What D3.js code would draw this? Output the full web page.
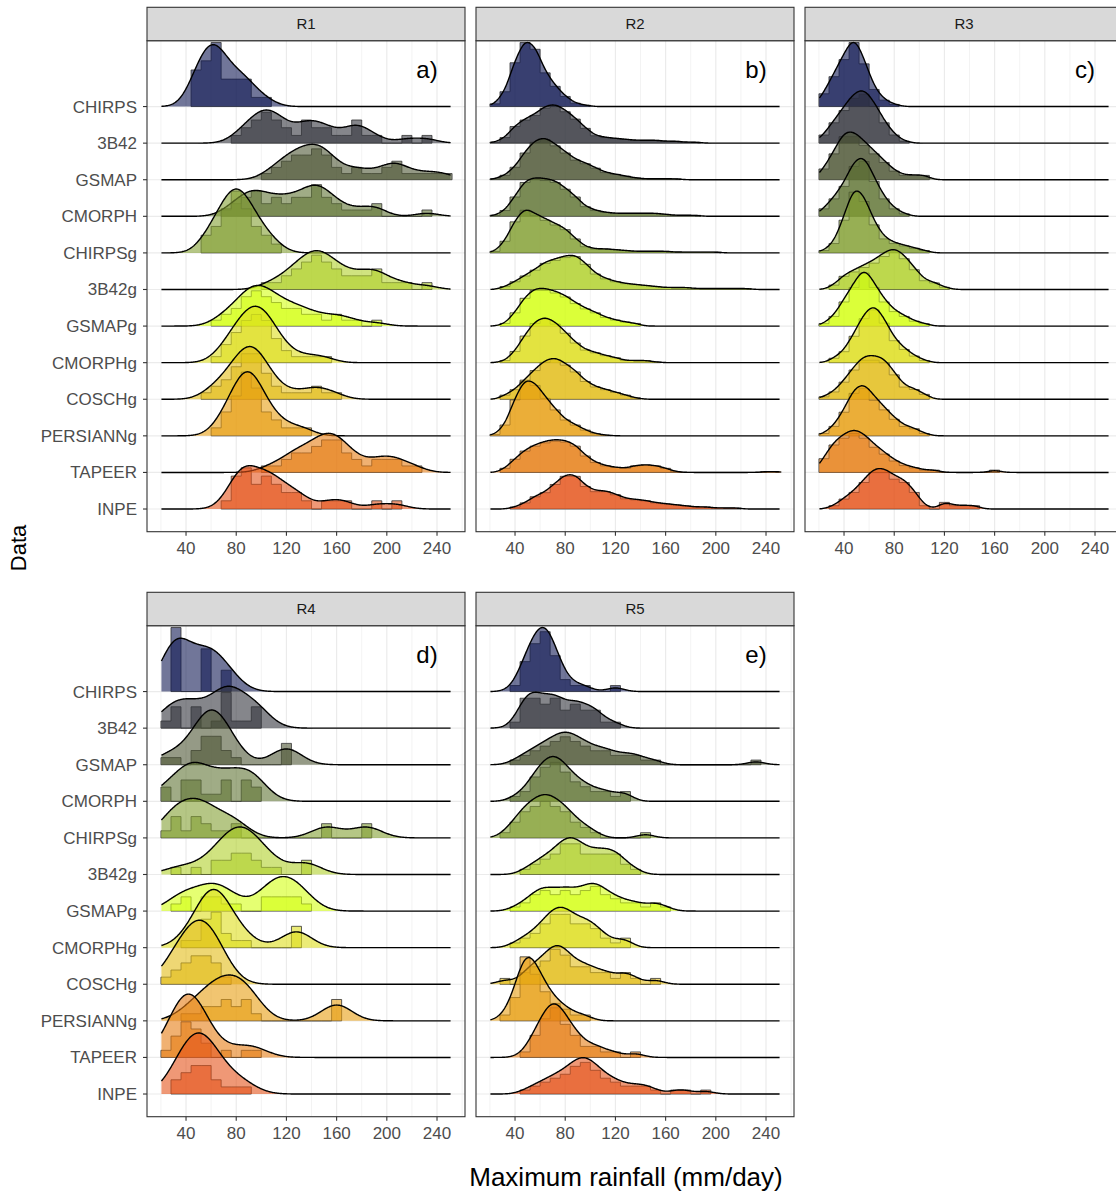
<!DOCTYPE html>
<html><head><meta charset="utf-8">
<script src="https://cdn.jsdelivr.net/npm/d3@7"></script>
<style>
body{margin:0;background:#fff}
svg{display:block}
text{font-family:"Liberation Sans",Arial,Helvetica,sans-serif}
</style></head>
<body><svg id="c" width="1116" height="1192"></svg>
<script>
// ---------- data ----------
const seriesNames = ["CHIRPS","3B42","GSMAP","CMORPH","CHIRPSg","3B42g","GSMAPg","CMORPHg","COSCHg","PERSIANNg","TAPEER","INPE"];
const seriesColors = ["#121a55","#33353d","#4f5636","#607535","#84a033","#b1d12b","#d4ff14","#dede1c","#e3bd17","#e89f12","#e67d14","#e4531a"];
const panelNames = ["R1","R2","R3","R4","R5"];
const panelTags = ["a)","b)","c)","d)","e)"];
const panelBandwidth = [9, 4, 4.5, 12, 6.5];
const xTickValues = [40,80,120,160,200,240];
const binStart = 20, binWidth = 8;
// counts of annual maxima per 8 mm/day bin: [first bin index, count, count, ...]
const r1Counts = [
  [3, 4,5,7,3,3,3,1,1],
  [7, 1,2,3,4,3,2,1,3,2,2,1,1,3,1,1,0,0,1,0,1],
  [10, 1,2,3,4,4,5,4,2,1,2,1,1,2,3,1,1,1,1,1],
  [6, 1,2,3,4,2,3,2,3,3,5,3,2,1,1,1,2,0,0,0,0,1],
  [4, 2,3,5,7,5,3,2,1],
  [10, 1,1,2,3,4,5,4,3,2,2,2,3,1,1,1,0,1],
  [5, 1,2,3,5,6,5,4,3,3,2,2,1,2,1,1,0,1],
  [5, 1,3,5,7,8,7,4,2,1,1,1,1],
  [4, 1,2,3,5,7,7,4,2,1,1,1,2,1,1],
  [5, 1,3,5,8,6,3,2,1,1,1],
  [10, 1,1,2,3,3,4,5,5,3,2,1,2,2,2,1,1],
  [6, 1,4,5,3,4,3,2,2,1,0,1,1,1,0,0,1,0,1]
];
const r2Counts = [
  [0, 4,22,65,95,85,50,30,15,5,2],
  [0, 1,6,18,25,30,38,40,34,26,16,8,6,5,4,3,3,3,2,2,1,1],
  [0, 1,5,14,30,42,45,38,30,22,18,13,8,6,4,2,1,1,1,1],
  [0, 1,6,20,35,38,37,35,28,20,10,6,4,3,3,3,3,3,2,1,1,1],
  [0, 2,15,40,55,48,42,36,30,18,8,5,5,4,3,2,2,2,2,1,1,1,1,1],
  [1, 3,8,14,20,27,30,33,34,26,16,11,8,6,5,4,3,2,2,2,1,1,1,1,1,1],
  [1, 4,20,42,54,54,50,44,34,26,20,13,9,6,4],
  [1, 3,16,38,56,62,55,42,28,18,14,10,7,3,3,3,1],
  [1, 6,14,28,42,54,58,50,40,26,18,14,10,6,2],
  [0, 2,15,50,75,70,52,36,22,15,8,3,1],
  [1, 5,16,26,32,36,38,37,32,20,12,8,6,5,8,9,8,5,1,0,0,0,0,0,0,0,0,1,1],
  [2, 2,6,12,16,24,32,32,22,17,17,14,10,9,8,6,5,4,3,2,2,1,1,1]
];
const r3Counts = [
  [0, 6,14,22,30,20,8,3,1],
  [0, 4,10,16,22,24,18,10,4,1],
  [0, 5,12,20,20,16,12,8,4,2,2,2],
  [0, 3,7,12,20,22,14,7,3,1],
  [0, 1,4,14,26,22,12,6,4,3,2,1],
  [1, 2,6,8,10,12,15,17,14,9,4,3,1],
  [0, 1,4,10,16,22,16,10,6,4,2,1],
  [1, 2,5,12,20,24,18,10,6,3,1],
  [0, 1,3,7,12,16,16,15,10,5,4,2],
  [0, 1,4,10,18,20,15,11,7,4,3,1],
  [0, 6,12,15,17,15,11,8,5,3,2,1,1,0,0,0,0,0,1],
  [1, 1,3,5,8,11,11,9,8,5,1,0,2,1,1,1]
];
const r4Counts = [
  [1, 9,0,0,6,0,3],
  [0, 1,3,0,3,0,1,5,1,1,3],
  [0, 1,1,0,2,4,4,2,1,0,0,0,0,3],
  [0, 2,0,3,3,1,1,3,0,3,2],
  [0, 1,3,1,3,2,1,1,2,0,0,0,0,0,0,0,0,2,0,0,0,2],
  [1, 1,0,1,0,2,2,3,3,2,1,1,0,0,2],
  [1, 1,2,0,2,2,1,1,0,0,2,2,2,2,1],
  [2, 1,1,4,5,2,1,1,0,0,0,0,3],
  [0, 1,2,3,4,4,3,1],
  [2, 1,1,2,2,3,2,3,1,0,0,0,0,0,0,0,3],
  [0, 1,3,5,4,2,0,1,0,1,1],
  [1, 2,3,4,4,2,1,1,1]
];
const r5Counts = [
  [2, 1,5,8,10,6,2,1,1,0,0,1],
  [2, 1,5,5,4,5,3,4,3,3,1,1],
  [2, 1,2,3,4,5,6,5,4,3,3,2,2,2,1,1,0,0,0,0,0,0,0,0,0,1],
  [2, 1,2,5,7,8,6,4,3,2,2,1,2],
  [1, 1,3,5,6,7,6,5,3,2,1,0,0,0,0,1],
  [3, 1,2,3,4,6,6,4,4,4,4,2,1],
  [2, 1,2,4,5,4,5,4,5,6,4,3,2,2,1,2,1],
  [2, 1,2,3,5,7,7,5,5,4,2,1,2],
  [1, 1,0,2,3,4,6,5,3,3,2,2,1,2,1,0,1],
  [1, 1,4,11,8,5,3,2,1,1],
  [3, 1,4,7,9,6,4,2,2,1,1,0,1],
  [3, 1,2,3,4,5,7,8,6,4,3,2,2,2,1,0,1,1,0,1]
];
const allCounts = [r1Counts, r2Counts, r3Counts, r4Counts, r5Counts];

// ---------- layout ----------
const svg = d3.select("#c");
const PW = 318, PH = 491, stripH = 33.4;
const panelLeft = [147, 476, 805, 147, 476];
const panelTop = [40.7, 40.7, 40.7, 625.7, 625.7];
const showY = [true, false, false, true, false];
const x = d3.scaleLinear().domain([8.9, 262.3]).range([0, PW]);
const y = d3.scaleLinear().domain([0.38, 13.8]).range([PH, 0]);
const H = 1.75;
const xMin = 20.4, xMax = 250.8;
const grid = d3.range(0, 461).map(i => xMin + (xMax - xMin) * i / 460);
const fillAlpha = 0.6;

function erf(v){const s=Math.sign(v);v=Math.abs(v);const t=1/(1+0.3275911*v);
  const r=1-(((((1.061405429*t-1.453152027)*t)+1.421413741)*t-0.284496736)*t+0.254829592)*t*Math.exp(-v*v);return s*r;}
const Phi = z => 0.5*(1+erf(z/Math.SQRT2));
function expand(sp){const k0=sp[0];return sp.slice(1).map((c,i)=>({a:binStart+binWidth*(k0+i),b:binStart+binWidth*(k0+i+1),c}));}

panelNames.forEach((pn, p) => {
  const g = svg.append("g").attr("transform", `translate(${panelLeft[p]},${panelTop[p]})`);
  const data = allCounts[p].map(expand);
  const ns = data.map(b => d3.sum(b, d => d.c));
  const bw = panelBandwidth[p];
  const dens = data.map((bins, i) => grid.map(xv => d3.sum(bins, d => d.c / (ns[i] * binWidth) * (Phi((xv - d.a) / bw) - Phi((xv - d.b) / bw)))));
  const maxD = d3.max(dens, a => d3.max(a));
  const maxHst = d3.max(data.map((bins, i) => d3.max(bins, d => d.c / ns[i])));

  // background + grid
  g.append("rect").attr("width", PW).attr("height", PH).attr("fill", "#fff");
  const minor = [20,60,100,140,180,220,260];
  g.selectAll(".mn").data(minor).join("line").attr("x1", d => x(d)).attr("x2", d => x(d)).attr("y1", 0).attr("y2", PH).attr("stroke", "#ebebeb").attr("stroke-width", 0.6);
  g.selectAll(".mj").data(xTickValues).join("line").attr("x1", d => x(d)).attr("x2", d => x(d)).attr("y1", 0).attr("y2", PH).attr("stroke", "#ebebeb").attr("stroke-width", 1.2);
  g.selectAll(".hy").data(d3.range(1, 13)).join("line").attr("x1", 0).attr("x2", PW).attr("y1", d => y(d)).attr("y2", d => y(d)).attr("stroke", "#ebebeb").attr("stroke-width", 1.2);

  const clip = "clip" + p;
  g.append("clipPath").attr("id", clip).append("rect").attr("width", PW).attr("height", PH);
  const inner = g.append("g").attr("clip-path", `url(#${clip})`);
  // histograms (first layer)
  seriesNames.forEach((s, i) => {
    const base = 12 - i;
    const bins = data[i];
    let first = bins.findIndex(d => d.c > 0), last = bins.length - 1;
    while (last > 0 && bins[last].c === 0) last--;
    const pts = [[bins[first].a, 0]];
    for (let k = first; k <= last; k++) {
      const h = H * (bins[k].c / ns[i]) / maxHst;
      pts.push([bins[k].a, h], [bins[k].b, h]);
    }
    pts.push([bins[last].b, 0]);
    const line = d3.line().x(d => x(d[0])).y(d => y(base + d[1]));
    inner.append("path").attr("d", line(pts) + "Z")
      .attr("fill", seriesColors[i]).attr("fill-opacity", fillAlpha)
      .attr("stroke", "#2b2b2b").attr("stroke-opacity", 0.85).attr("stroke-width", 0.9);
  });
  // density ridges (second layer)
  seriesNames.forEach((s, i) => {
    const base = 12 - i;
    const pts = grid.map((xv, j) => [xv, base + H * dens[i][j] / maxD]);
    inner.append("path")
      .attr("d", d3.area().x(d => x(d[0])).y0(y(base)).y1(d => y(d[1]))(pts))
      .attr("fill", seriesColors[i]).attr("fill-opacity", fillAlpha);
    inner.append("path")
      .attr("d", d3.line().x(d => x(d[0])).y(d => y(d[1]))(pts))
      .attr("fill", "none").attr("stroke", "#000").attr("stroke-width", 1.4);
  });

  // tag
  g.append("text").attr("x", x(232)).attr("y", y(12.78)).attr("text-anchor", "middle")
    .attr("font-size", 24).attr("fill", "#000").text(panelTags[p]);

  // border
  g.append("rect").attr("width", PW).attr("height", PH).attr("fill", "none").attr("stroke", "#333").attr("stroke-width", 1.1);
  // strip
  g.append("rect").attr("y", -stripH).attr("width", PW).attr("height", stripH).attr("fill", "#d9d9d9").attr("stroke", "#333").attr("stroke-width", 1.1);
  g.append("text").attr("x", PW / 2).attr("y", -stripH / 2 + 5.3).attr("text-anchor", "middle").attr("font-size", 15).attr("fill", "#1a1a1a").text(pn);

  // x axis
  const xa = g.append("g").attr("transform", `translate(0,${PH})`);
  xa.selectAll("line").data(xTickValues).join("line").attr("x1", d => x(d)).attr("x2", d => x(d)).attr("y1", 0).attr("y2", 4).attr("stroke", "#333").attr("stroke-width", 1.1);
  xa.selectAll("text").data(xTickValues).join("text").attr("x", d => x(d)).attr("y", 22.5).attr("text-anchor", "middle").attr("font-size", 17).attr("fill", "#4d4d4d").text(d => d);
  if (showY[p]) {
    const ya = g.append("g");
    ya.selectAll("line").data(seriesNames).join("line").attr("x1", -4).attr("x2", 0).attr("y1", (d, i) => y(12 - i)).attr("y2", (d, i) => y(12 - i)).attr("stroke", "#333").attr("stroke-width", 1.1);
    ya.selectAll("text").data(seriesNames).join("text").attr("x", -10).attr("y", (d, i) => y(12 - i) + 6).attr("text-anchor", "end").attr("font-size", 17).attr("fill", "#4d4d4d").text(d => d);
  }
});

svg.append("text").attr("transform", "translate(26,548) rotate(-90)").attr("text-anchor", "middle").attr("font-size", 22).attr("fill", "#000").text("Data");
svg.append("text").attr("x", 626).attr("y", 1186).attr("text-anchor", "middle").attr("font-size", 26).attr("fill", "#000").text("Maximum rainfall (mm/day)");
</script></body></html>
